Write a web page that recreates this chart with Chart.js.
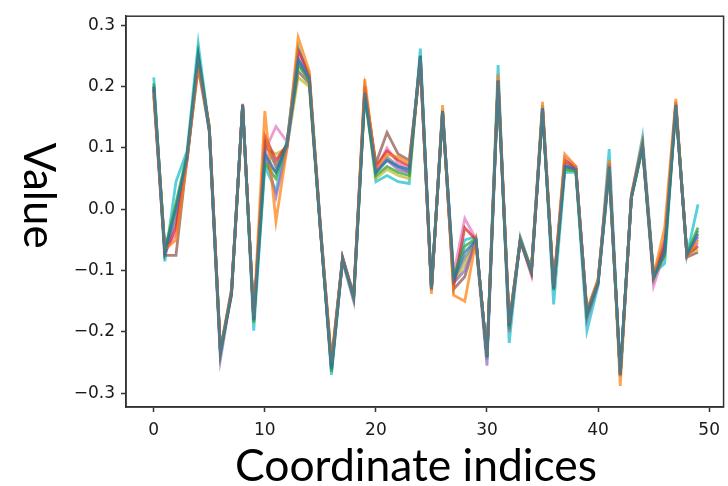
<!DOCTYPE html>
<html>
<head>
<meta charset="utf-8">
<script src="https://cdn.jsdelivr.net/npm/chart.js@4.4.0/dist/chart.umd.min.js"></script>
<style>
  html, body { margin: 0; padding: 0; background: #fff; }
  canvas { display: block; }
</style>
</head>
<body>
<canvas id="myChart" width="728" height="486"></canvas>
<script>
"use strict";

// x positions (coordinate index)
let indices = [0,1,2,3,4,5,6,7,8,9,10,11,12,13,14,15,16,17,18,19,20,21,22,23,24,
               25,26,27,28,29,30,31,32,33,34,35,36,37,38,39,40,41,42,43,44,45,46,47,48,49];

let xTicks = [0, 10, 20, 30, 40, 50];
let yTicks = [-0.3, -0.2, -0.1, 0.0, 0.1, 0.2, 0.3];

// one array per drawn line
let run0 = [0.20,-0.07,0.00,0.085,0.25,0.13,-0.232,-0.135,0.17,-0.18,0.09,0.06,0.105,0.245,0.215,-0.03,-0.26,-0.08,-0.142,0.19,
            0.06,0.08,0.07,0.065,0.25,-0.13,0.16,-0.115,-0.07,-0.05,-0.24,0.21,-0.19,-0.05,-0.10,0.165,-0.13,0.07,0.065,-0.17,
            -0.12,0.07,-0.27,0.02,0.105,-0.11,-0.07,0.17,-0.075,-0.04];
let run1 = [0.19,-0.065,-0.05,0.08,0.235,0.135,-0.228,-0.13,0.168,-0.175,0.16,-0.02,0.10,0.28,0.225,-0.025,-0.25,-0.078,-0.14,0.212,
            0.065,0.09,0.085,0.075,0.245,-0.138,0.17,-0.14,-0.15,-0.052,-0.238,0.22,-0.185,-0.048,-0.098,0.175,-0.125,0.09,0.07,-0.165,
            -0.115,0.08,-0.288,0.025,0.11,-0.108,-0.03,0.18,-0.078,-0.05];
let run2 = [0.205,-0.068,0.01,0.09,0.255,0.13,-0.235,-0.135,0.17,-0.185,0.075,0.05,0.11,0.235,0.21,-0.03,-0.265,-0.082,-0.145,0.185,
            0.055,0.07,0.06,0.055,0.25,-0.128,0.158,-0.11,-0.06,-0.048,-0.242,0.205,-0.195,-0.05,-0.102,0.16,-0.132,0.065,0.062,-0.175,
            -0.12,0.065,-0.268,0.018,0.10,-0.112,-0.075,0.168,-0.072,-0.03];
let run3 = [0.195,-0.072,-0.03,0.085,0.24,0.135,-0.23,-0.14,0.172,-0.18,0.12,0.08,0.105,0.26,0.22,-0.035,-0.255,-0.08,-0.14,0.20,
            0.07,0.095,0.08,0.07,0.24,-0.132,0.16,-0.125,-0.03,-0.05,-0.24,0.21,-0.19,-0.052,-0.105,0.165,-0.128,0.08,0.068,-0.17,
            -0.118,0.075,-0.272,0.02,0.105,-0.11,-0.06,0.17,-0.075,-0.06];
let run4 = [0.20,-0.066,-0.02,0.08,0.245,0.125,-0.245,-0.135,0.17,-0.182,0.10,0.02,0.10,0.24,0.21,-0.03,-0.262,-0.085,-0.15,0.19,
            0.06,0.08,0.065,0.06,0.245,-0.13,0.155,-0.12,-0.10,-0.055,-0.255,0.205,-0.20,-0.05,-0.10,0.16,-0.13,0.07,0.065,-0.18,
            -0.122,0.06,-0.27,0.02,0.10,-0.115,-0.065,0.165,-0.075,-0.045];
let run5 = [0.185,-0.075,-0.075,0.085,0.23,0.13,-0.232,-0.135,0.168,-0.175,0.11,0.07,0.108,0.225,0.205,-0.03,-0.245,-0.08,-0.142,0.195,
            0.075,0.125,0.09,0.08,0.235,-0.128,0.158,-0.13,-0.11,-0.05,-0.238,0.21,-0.185,-0.048,-0.10,0.165,-0.125,0.075,0.066,-0.165,
            -0.115,0.07,-0.268,0.022,0.105,-0.108,-0.05,0.175,-0.078,-0.07];
let run6 = [0.195,-0.07,-0.04,0.09,0.24,0.13,-0.235,-0.13,0.17,-0.18,0.095,0.135,0.11,0.255,0.215,-0.025,-0.258,-0.078,-0.14,0.20,
            0.065,0.10,0.075,0.065,0.24,-0.13,0.16,-0.105,-0.015,-0.048,-0.24,0.205,-0.19,-0.05,-0.108,0.162,-0.13,0.085,0.07,-0.17,
            -0.12,0.065,-0.27,0.02,0.102,-0.125,-0.07,0.168,-0.072,-0.055];
let run7 = [0.20,-0.064,0.005,0.085,0.25,0.13,-0.23,-0.135,0.17,-0.18,0.08,0.06,0.105,0.245,0.21,-0.03,-0.26,-0.08,-0.142,0.19,
            0.06,0.085,0.07,0.06,0.25,-0.13,0.16,-0.115,-0.08,-0.05,-0.24,0.21,-0.19,-0.05,-0.10,0.165,-0.13,0.07,0.065,-0.17,
            -0.12,0.07,-0.27,0.02,0.105,-0.11,-0.07,0.17,-0.075,-0.035];
let run8 = [0.19,-0.068,-0.01,0.08,0.245,0.135,-0.228,-0.14,0.168,-0.178,0.10,0.09,0.10,0.215,0.20,-0.035,-0.25,-0.082,-0.145,0.185,
            0.05,0.065,0.055,0.05,0.245,-0.128,0.158,-0.12,-0.09,-0.052,-0.238,0.205,-0.188,-0.052,-0.10,0.16,-0.128,0.065,0.062,-0.168,
            -0.118,0.06,-0.268,0.018,0.10,-0.112,-0.075,0.165,-0.072,-0.065];
let run9 = [0.215,-0.085,0.045,0.095,0.27,0.13,-0.235,-0.135,0.17,-0.198,0.07,0.03,0.11,0.265,0.215,-0.03,-0.27,-0.08,-0.14,0.195,
            0.045,0.055,0.045,0.042,0.262,-0.132,0.162,-0.11,-0.05,-0.045,-0.245,0.235,-0.218,-0.045,-0.098,0.17,-0.155,0.06,0.06,-0.198,
            -0.125,0.098,-0.272,0.02,0.118,-0.105,-0.088,0.17,-0.075,0.008];

let runs = [run0, run1, run2, run3, run4, run5, run6, run7, run8, run9];
let colors = ["31,119,180","255,127,14","44,160,44","214,39,40","148,103,189",
              "140,86,75","227,119,194","127,127,127","188,189,34","23,190,207"];

let xTitle = "Coordinate indices";
let yTitle = "Value";

function fmt(v) {
    let s = Math.abs(v).toFixed(1);
    return (v < -1e-9 ? "\u2212" : "") + s;
}

// fit a text to a width
function fitFont(ctx, text, width, family) {
    ctx.font = "100px " + family;
    let w = ctx.measureText(text).width;
    return (100 * width / w).toFixed(1) + "px " + family;
}

let frame = {
    id: "frame",
    afterDraw: function(chart) {
        let ctx = chart.ctx;
        let a = chart.chartArea;
        ctx.save();
        ctx.strokeStyle = "#333";
        ctx.lineWidth = 1.5;
        ctx.strokeRect(a.left, a.top, a.right - a.left, a.bottom - a.top);

        let fam = "Lato, 'Open Sans', sans-serif";
        ctx.fillStyle = "#000";
        ctx.textAlign = "center";
        ctx.textBaseline = "alphabetic";
        ctx.font = fitFont(ctx, xTitle, 362, fam);
        ctx.fillText(xTitle, 416, 481);

        ctx.translate(24, 195.5);
        ctx.rotate(Math.PI / 2);
        ctx.font = fitFont(ctx, yTitle, 106, fam);
        ctx.fillText(yTitle, 0, 0);
        ctx.restore();
    }
};

let datasets = [];
for (let k = 0; k < runs.length; k++) {
    let pts = [];
    for (let i = 0; i < indices.length; i++) pts.push({ x: indices[i], y: runs[k][i] });
    datasets.push({
        data: pts,
        borderColor: "rgba(" + colors[k] + ",0.72)",
        borderWidth: 2.8,
        pointRadius: 0,
        tension: 0,
        fill: false
    });
}

let tickFont = { family: "'DejaVu Sans', sans-serif", size: 17 };

new Chart(document.getElementById("myChart"), {
    type: "line",
    data: { datasets: datasets },
    plugins: [frame],
    options: {
        responsive: false,
        animation: false,
        devicePixelRatio: 1,
        layout: { padding: { left: 0, right: 2, top: 16, bottom: 0 } },
        plugins: { legend: { display: false }, tooltip: { enabled: false } },
        scales: {
            x: {
                type: "linear",
                min: -2.5,
                max: 51.3,
                afterBuildTicks: function(s) { s.ticks = xTicks.map(v => ({ value: v })); },
                afterFit: function(s) { s.height = 79; },
                grid: { drawOnChartArea: false, drawTicks: true, tickLength: 5, tickColor: "#333", tickWidth: 1.5 },
                border: { display: true, color: "#333", width: 1.5 },
                ticks: { font: tickFont, color: "#1a1a1a", padding: 8, maxRotation: 0, autoSkip: false,
                         callback: v => String(v) }
            },
            y: {
                min: -0.3223,
                max: 0.3147,
                afterBuildTicks: function(s) { s.ticks = yTicks.map(v => ({ value: v })); },
                afterFit: function(s) { s.width = 126; },
                grid: { drawOnChartArea: false, drawTicks: true, tickLength: 5, tickColor: "#333", tickWidth: 1.5 },
                border: { display: true, color: "#333", width: 1.5 },
                ticks: { font: tickFont, color: "#1a1a1a", padding: 6, autoSkip: false,
                         callback: v => fmt(v) }
            }
        }
    }
});
</script>
</body>
</html>
